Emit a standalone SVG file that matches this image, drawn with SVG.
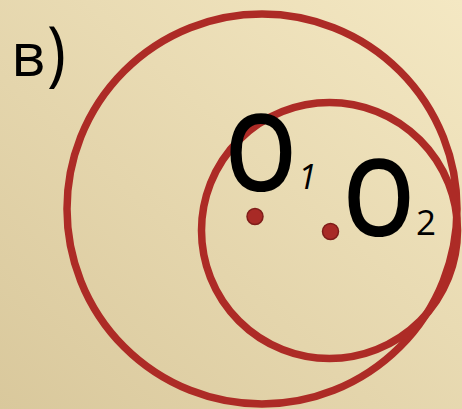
<svg xmlns="http://www.w3.org/2000/svg" width="462" height="409" viewBox="0 0 462 409">
  <defs>
    <linearGradient id="bg" x1="1" y1="0" x2="0" y2="1">
      <stop offset="0" stop-color="#f4e8c3"/>
      <stop offset="1" stop-color="#d9c89c"/>
    </linearGradient>
  </defs>
  <style>
    .ring { fill: none; stroke: #ad2b26; stroke-width: 7.5; }
    .dot { fill: #a82a26; stroke: #7e1c19; stroke-width: 1.5; }
    .lbl { font-family: "Open Sans", "DejaVu Sans", sans-serif; fill: #000; }
    .big { font-size: 106px; font-weight: 600; }
  </style>
  <rect width="462" height="409" fill="url(#bg)"/>
  <text class="lbl" x="11" y="76" font-size="60">в</text>
  <text class="lbl" transform="translate(47,78) scale(1,1.12)" font-size="64">)</text>
  <g id="circle-big">
    <circle class="ring" cx="262" cy="209" r="195"/>
  </g>
  <g id="circle-small">
    <circle class="ring" cx="329.5" cy="230.5" r="128"/>
  </g>
  <g id="O1">
    <circle class="dot" cx="255" cy="216.5" r="8"/>
    <text class="lbl big" transform="translate(225,190.5) scale(0.86,1)">O</text>
    <text class="lbl" x="298" y="189" font-size="34" font-style="italic">1</text>
  </g>
  <g id="O2">
    <circle class="dot" cx="330.5" cy="231.5" r="8"/>
    <text class="lbl big" transform="translate(343,236) scale(0.86,1)">O</text>
    <text class="lbl" x="416" y="235" font-size="35">2</text>
  </g>
  <g id="connectors"/>
</svg>
